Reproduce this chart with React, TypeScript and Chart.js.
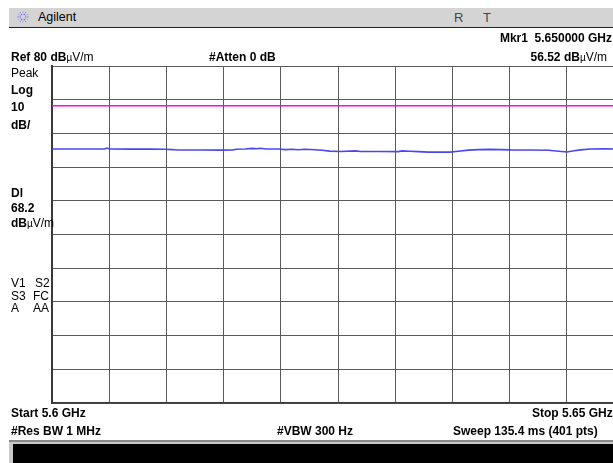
import React, { useEffect, useRef } from "react";
import { Chart, registerables } from "chart.js";

Chart.register(...registerables);

// ---- data ----
const startGHz = 5.6;
const stopGHz = 5.65;
const refLevel = 80;
const dbPerDiv = 10;
const divisions = 10;
const displayLine = 68.2;

const traceFreqGHz = [
  5.6, 5.6016, 5.6033, 5.6046, 5.6048, 5.605, 5.6068, 5.6086, 5.6099, 5.6105,
  5.611, 5.613, 5.6147, 5.6158, 5.6161, 5.6169, 5.6175, 5.6179, 5.6182, 5.6187,
  5.6198, 5.6204, 5.621, 5.6215, 5.6221, 5.623, 5.6236, 5.6243, 5.6252, 5.6265,
  5.627, 5.6287, 5.6303, 5.6306, 5.6313, 5.632, 5.6329, 5.6339, 5.6348, 5.6355,
  5.6364, 5.6373, 5.6383, 5.6392, 5.6401, 5.6418, 5.6434, 5.6443, 5.645, 5.6455,
  5.6462, 5.6471, 5.6484, 5.6491, 5.65,
];
const traceLevel = [
  55.37, 55.37, 55.37, 55.35, 55.65, 55.37, 55.33, 55.33, 55.3, 55.2,
  55.07, 55.07, 55.05, 55.07, 55.3, 55.37, 55.55, 55.45, 55.6, 55.37,
  55.37, 55.2, 55.3, 55.15, 55.28, 55.15, 55.0, 54.75, 54.65, 54.8,
  54.65, 54.62, 54.6, 54.8, 54.7, 54.6, 54.45, 54.5, 54.45, 54.7,
  55.05, 55.2, 55.25, 55.2, 55.1, 55.07, 55.0, 54.7, 54.5, 54.8,
  55.1, 55.35, 55.4, 55.37, 56.52,
];

const headerTitle = "Agilent";
const markerFreqLabel = "Mkr1  5.650000 GHz";
const markerLevelLabel = "56.52";
const refLabel = "Ref 80";
const attenLabel = "#Atten 0 dB";
const startLabel = "Start 5.6 GHz";
const stopLabel = "Stop 5.65 GHz";
const rbwLabel = "#Res BW 1 MHz";
const vbwLabel = "#VBW 300 Hz";
const sweepLabel = "Sweep 135.4 ms (401 pts)";

const FONT = "'Liberation Sans', Arial, sans-serif";

function T(props: {
  x: number;
  y: number;
  bold?: boolean;
  size?: number;
  right?: boolean;
  color?: string;
  children: React.ReactNode;
}) {
  const { x, y, bold, size = 12, right, color = "#000", children } = props;
  const style: React.CSSProperties = {
    position: "absolute",
    top: y - size / 2,
    fontSize: size,
    lineHeight: size + "px",
    fontWeight: bold ? "bold" : "normal",
    whiteSpace: "pre",
    color,
    fontFamily: FONT,
  };
  if (right) style.right = 613 - x;
  else style.left = x;
  return <div style={style}>{children}</div>;
}

function Unit() {
  return (
    <>
      <span style={{ fontWeight: "bold" }}>dB</span>
      <span style={{ fontWeight: "normal" }}>
        <span style={{ fontSize: 10 }}>µ</span>V/m
      </span>
    </>
  );
}

function Logo() {
  const rays = [];
  for (let i = 0; i < 12; i++) {
    const a = (i * Math.PI) / 6;
    const r1 = 2.2;
    const r2 = 6;
    rays.push(
      <line
        key={i}
        x1={7 + r1 * Math.cos(a)}
        y1={7 + r1 * Math.sin(a)}
        x2={7 + r2 * Math.cos(a)}
        y2={7 + r2 * Math.sin(a)}
        stroke={i % 2 ? "#9a9af0" : "#6a6ae8"}
        strokeWidth={1}
        strokeDasharray="1.2 0.8"
      />
    );
  }
  return (
    <svg
      width={14}
      height={14}
      style={{ position: "absolute", left: 16, top: 10 }}
    >
      {rays}
    </svg>
  );
}

export default function App() {
  const ref = useRef<HTMLCanvasElement>(null);

  useEffect(() => {
    if (!ref.current) return;
    const trace = traceFreqGHz.map((f, i) => ({ x: f, y: traceLevel[i] }));
    const dl = [
      { x: startGHz, y: displayLine },
      { x: stopGHz, y: displayLine },
    ];
    const chart = new Chart(ref.current, {
      type: "line",
      data: {
        datasets: [
          {
            data: dl,
            borderColor: "#ff00ff",
            borderWidth: 1.5,
            pointRadius: 0,
            tension: 0,
          },
          {
            data: trace,
            borderColor: "#4848f0",
            borderWidth: 1.6,
            pointRadius: 0,
            tension: 0,
          },
        ],
      },
      options: {
        animation: false,
        responsive: false,
        events: [],
        layout: { padding: { left: 52, top: 66, right: 16, bottom: 60 } },
        plugins: { legend: { display: false }, tooltip: { enabled: false } },
        scales: {
          x: {
            type: "linear",
            min: startGHz,
            max: stopGHz,
            ticks: { display: false, stepSize: (stopGHz - startGHz) / divisions },
            grid: { color: "#5a5a5a", lineWidth: 1, drawTicks: false },
            border: { display: true, color: "#3a3a3a", width: 1.5 },
          },
          y: {
            min: refLevel - dbPerDiv * divisions,
            max: refLevel,
            ticks: { display: false, stepSize: dbPerDiv },
            grid: { color: "#5a5a5a", lineWidth: 1, drawTicks: false },
            border: { display: true, color: "#3a3a3a", width: 2 },
          },
        },
      },
    });
    return () => chart.destroy();
  }, []);

  return (
    <div
      style={{
        position: "fixed",
        left: 0,
        top: 0,
        width: 613,
        height: 463,
        overflow: "hidden",
        background: "#fff",
        fontFamily: FONT,
      }}
    >
      {/* header bar */}
      <div
        style={{
          position: "absolute",
          left: 9,
          top: 8,
          width: 620,
          height: 19,
          background: "#d4d4d4",
          borderBottom: "1px solid #222",
        }}
      />
      <Logo />
      <T x={38} y={17} size={12.5}>
        {headerTitle}
      </T>
      <T x={454} y={17} size={13} color="#444">
        R
      </T>
      <T x={483} y={17} size={13} color="#444">
        T
      </T>

      <canvas
        ref={ref}
        width={640}
        height={463}
        style={{ position: "absolute", left: 0, top: 0, width: 640, height: 463 }}
      />

      {/* top annotations */}
      <T x={612} y={38} bold right>
        {markerFreqLabel}
      </T>
      <T x={607} y={57} bold right>
        {markerLevelLabel} <Unit />
      </T>
      <T x={11} y={57} bold>
        {refLabel} <Unit />
      </T>
      <T x={209} y={57} bold>
        {attenLabel}
      </T>

      {/* left annotations */}
      <T x={11} y={73}>Peak</T>
      <T x={11} y={90} bold>Log</T>
      <T x={11} y={107} bold>10</T>
      <T x={11} y={125} bold>dB/</T>
      <T x={11} y={193} bold>Dl</T>
      <T x={11} y={208} bold>68.2</T>
      <T x={11} y={223}>
        <Unit />
      </T>
      <T x={11} y={283}>V1</T>
      <T x={35} y={283}>S2</T>
      <T x={11} y={296}>S3</T>
      <T x={33} y={296}>FC</T>
      <T x={11} y={308}>A</T>
      <T x={33} y={308}>AA</T>

      {/* bottom annotations */}
      <T x={11} y={413} bold>
        {startLabel}
      </T>
      <T x={532} y={413} bold>
        {stopLabel}
      </T>
      <T x={11} y={431} bold>
        {rbwLabel}
      </T>
      <T x={277} y={431} bold>
        {vbwLabel}
      </T>
      <T x={453} y={431} bold>
        {sweepLabel}
      </T>

      {/* status bar */}
      <div
        style={{
          position: "absolute",
          left: 9,
          top: 440,
          width: 610,
          height: 2,
          background: "#888",
        }}
      />
      <div
        style={{
          position: "absolute",
          left: 9,
          top: 442,
          width: 610,
          height: 21,
          background: "#c8c8c8",
        }}
      />
      <div
        style={{
          position: "absolute",
          left: 13,
          top: 444,
          width: 610,
          height: 19,
          background: "#000",
        }}
      />
    </div>
  );
}
